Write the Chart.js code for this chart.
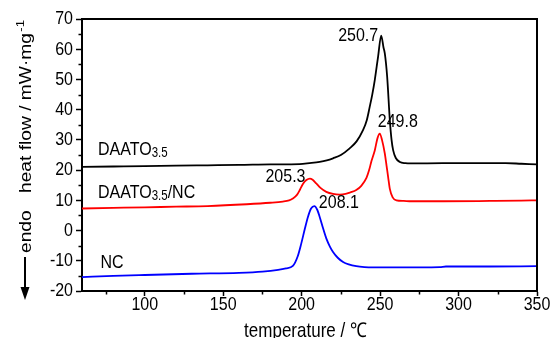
<!DOCTYPE html>
<html>
<head>
<meta charset="utf-8">
<script src="https://cdn.jsdelivr.net/npm/chart.js@4.4.1/dist/chart.umd.min.js"></script>
<style>
  html, body { margin: 0; padding: 0; background: #fff; }
  #wrap { width: 554px; height: 338px; }
</style>
</head>
<body>
<div id="wrap"><canvas id="dsc" width="554" height="338"></canvas></div>
<script>
// Axis ticks
const xTicks = [100, 150, 200, 250, 300, 350];
const xMinorTicks = [75, 125, 175, 225, 275, 325];
const yTicks = [-20, -10, 0, 10, 20, 30, 40, 50, 60, 70];
const yMinorTicks = [-15, -5, 5, 15, 25, 35, 45, 55, 65];

// DAATO3.5 DSC curve (temperature / °C, heat flow / mW·mg-1)
const daatoT  = [60, 80, 100, 120, 140, 160, 180, 198.7, 205, 211.5, 216, 220, 225, 230.6, 235, 239.1, 241.5, 243.4, 245, 246.6, 248.7, 250.7, 252.2, 253, 254.5, 256.2, 257.3, 258.3, 260, 262.6, 266, 270, 290, 310, 330, 340, 350];
const daatoHF = [21.1, 21.2, 21.3, 21.5, 21.6, 21.7, 21.9, 22.0, 22.3, 22.7, 23.2, 23.9, 25.0, 27.2, 29.5, 33.2, 36.5, 41.0, 45.0, 49.8, 57.5, 64.5, 60.5, 58.6, 50.9, 36.5, 30.0, 26.6, 24.0, 22.7, 22.3, 22.2, 22.3, 22.3, 22.3, 22.1, 21.9];

// DAATO3.5/NC DSC curve
const mixT  = [60, 80, 100, 120, 140, 165, 180, 188, 192, 194.4, 197, 199, 200.8, 203, 205.3, 207, 209.3, 212, 215.7, 220, 224.2, 228, 231, 234.8, 238, 241.3, 243, 244.5, 246.6, 248.3, 249.8, 251.2, 253, 254.1, 255.1, 256.2, 258, 260.4, 265, 270, 290, 320, 340, 350];
const mixHF = [7.3, 7.5, 7.7, 7.9, 8.1, 8.7, 9.2, 9.6, 10.0, 10.6, 11.8, 13.6, 15.4, 16.7, 17.2, 16.8, 15.6, 14.1, 12.8, 12.1, 11.9, 12.1, 12.6, 13.4, 14.8, 17.4, 20.0, 23.0, 26.5, 30.5, 32.1, 30.0, 25.5, 21.5, 17.8, 13.8, 11.0, 10.0, 9.8, 9.7, 9.7, 9.8, 9.9, 10.0];

// NC DSC curve
const ncT  = [60, 80, 100, 130, 160, 175, 185, 190, 194.4, 197.5, 199.7, 202, 204, 206, 208.1, 210, 211.5, 213.5, 215.7, 218, 220, 223, 226.4, 230, 234.8, 240, 245.5, 260, 288, 292, 320, 350];
const ncHF = [-15.4, -15.0, -14.7, -14.3, -14.0, -13.6, -13.0, -12.5, -11.7, -8.5, -4.4, 0.5, 4.5, 7.3, 8.1, 6.8, 4.5, 1.0, -2.6, -5.3, -7.1, -9.0, -10.4, -11.2, -11.8, -12.1, -12.2, -12.2, -12.1, -11.9, -11.9, -11.8];

// Peak temperatures that get annotated
const peakTemps = [250.7, 249.8, 205.3, 208.1];

const FONT = '"Liberation Sans", Arial, sans-serif';
const SY = 1.2; // glyphs are a little taller than wide

function toPoints(ts, hs) { return ts.map((t, i) => ({ x: t, y: hs[i] })); }

function text(ctx, s, x, y, size, align, baseline) {
  ctx.save();
  ctx.translate(x, y);
  ctx.scale(1, SY);
  ctx.font = size + 'px ' + FONT;
  ctx.textAlign = align;
  ctx.textBaseline = baseline;
  ctx.fillText(s, 0, 0);
  const w = ctx.measureText(s).width;
  ctx.restore();
  return w;
}

// Label with subscript, e.g. DAATO3.5/NC
function subLabel(ctx, parts, x, baseY) {
  let cx = x;
  cx += text(ctx, parts[0], cx, baseY, 16, 'left', 'alphabetic');
  if (parts[1]) cx += text(ctx, parts[1], cx, baseY + 2, 11.5, 'left', 'alphabetic');
  if (parts[2]) text(ctx, parts[2], cx, baseY, 16, 'left', 'alphabetic');
}

const seriesNames = [['DAATO', '3.5', ''], ['DAATO', '3.5', '/NC'], ['NC', '', '']];

const decorations = {
  id: 'decorations',
  afterDraw(chart) {
    const { ctx, chartArea: a, scales: { x, y } } = chart;
    ctx.save();
    ctx.strokeStyle = '#000';
    ctx.fillStyle = '#000';

    // top and right frame
    ctx.lineWidth = 2;
    ctx.beginPath();
    ctx.moveTo(a.left, a.top);
    ctx.lineTo(a.right, a.top);
    ctx.lineTo(a.right, a.bottom);
    ctx.stroke();

    // minor ticks
    ctx.lineWidth = 1.5;
    ctx.beginPath();
    xMinorTicks.forEach(v => {
      const px = Math.round(x.getPixelForValue(v)) + 0.5;
      ctx.moveTo(px, a.bottom); ctx.lineTo(px, a.bottom + 3.5);
    });
    yMinorTicks.forEach(v => {
      const py = Math.round(y.getPixelForValue(v)) + 0.5;
      ctx.moveTo(a.left, py); ctx.lineTo(a.left - 3.5, py);
    });
    ctx.stroke();

    // tick labels
    y.ticks.forEach(t => text(ctx, String(t.value), a.left - 9, y.getPixelForValue(t.value), 16, 'right', 'middle'));
    x.ticks.forEach(t => text(ctx, String(t.value), x.getPixelForValue(t.value), a.bottom + 13.5, 16, 'center', 'middle'));

    // axis titles
    text(ctx, 'temperature / \u2103', (a.left + a.right) / 2 - 4, 336.5, 17, 'center', 'alphabetic');

    ctx.save();
    ctx.translate(31, 193);
    ctx.rotate(-Math.PI / 2);
    ctx.scale(SY, 1);
    ctx.font = '16px ' + FONT;
    ctx.textAlign = 'left';
    ctx.textBaseline = 'alphabetic';
    const main = 'heat flow / mW\u00B7mg';
    ctx.fillText(main, 0, 0);
    const mw = ctx.measureText(main).width;
    ctx.font = '11px ' + FONT;
    ctx.fillText('-1', mw + 1, -7);
    ctx.restore();

    ctx.save();
    ctx.translate(31, 253);
    ctx.rotate(-Math.PI / 2);
    ctx.scale(SY, 1);
    ctx.font = '16px ' + FONT;
    ctx.textAlign = 'left';
    ctx.textBaseline = 'alphabetic';
    ctx.fillText('endo', 0, 0);
    ctx.restore();

    // endo arrow
    ctx.lineWidth = 2;
    ctx.beginPath();
    ctx.moveTo(25, 257); ctx.lineTo(25, 290);
    ctx.stroke();
    ctx.beginPath();
    ctx.moveTo(20.5, 287); ctx.lineTo(25, 300); ctx.lineTo(29.5, 287); ctx.closePath();
    ctx.fill();

    // series names
    subLabel(ctx, seriesNames[0], 98, 155);
    subLabel(ctx, seriesNames[1], 98, 198.3);
    subLabel(ctx, seriesNames[2], 100.5, 268.3);

    // peak temperatures
    const peakAt = (ts, hs, t) => {
      const i = ts.indexOf(t);
      return { px: x.getPixelForValue(ts[i]), py: y.getPixelForValue(hs[i]) };
    };
    let p = peakAt(daatoT, daatoHF, peakTemps[0]);
    text(ctx, peakTemps[0].toFixed(1), p.px - 3, p.py + 5, 16, 'right', 'alphabetic');
    p = peakAt(mixT, mixHF, peakTemps[1]);
    text(ctx, peakTemps[1].toFixed(1), p.px - 2, p.py - 6.5, 16, 'left', 'alphabetic');
    p = peakAt(mixT, mixHF, peakTemps[2]);
    text(ctx, peakTemps[2].toFixed(1), p.px - 4.5, p.py + 3.3, 16, 'right', 'alphabetic');
    p = peakAt(ncT, ncHF, peakTemps[3]);
    text(ctx, peakTemps[3].toFixed(1), p.px + 4.5, p.py + 2.4, 16, 'left', 'alphabetic');

    ctx.restore();
  }
};

const curve = (pts, color) => ({
  data: pts,
  borderColor: color,
  borderWidth: 1.8,
  pointRadius: 0,
  fill: false,
  cubicInterpolationMode: 'monotone'
});

new Chart(document.getElementById('dsc'), {
  type: 'line',
  data: {
    datasets: [
      curve(toPoints(daatoT, daatoHF), '#000000'),
      curve(toPoints(mixT, mixHF), '#ff0000'),
      curve(toPoints(ncT, ncHF), '#0000ff')
    ]
  },
  options: {
    responsive: false,
    animation: false,
    events: [],
    layout: { padding: { top: 19, right: 17, left: 0, bottom: 0 } },
    plugins: { legend: { display: false }, tooltip: { enabled: false } },
    scales: {
      x: {
        type: 'linear',
        min: 60,
        max: 350,
        afterBuildTicks: s => { s.ticks = xTicks.map(v => ({ value: v })); },
        afterFit: s => { s.height = 47; },
        ticks: { display: false },
        grid: { display: true, drawOnChartArea: false, drawTicks: true, tickLength: 5, tickWidth: 1.5, tickColor: '#000' },
        border: { display: true, color: '#000', width: 2 }
      },
      y: {
        type: 'linear',
        min: -20,
        max: 70,
        afterBuildTicks: s => { s.ticks = yTicks.map(v => ({ value: v })); },
        afterFit: s => { s.width = 82; },
        ticks: { display: false },
        grid: { display: true, drawOnChartArea: false, drawTicks: true, tickLength: 6, tickWidth: 1.5, tickColor: '#000' },
        border: { display: true, color: '#000', width: 2 }
      }
    }
  },
  plugins: [decorations]
});
</script>
</body>
</html>
